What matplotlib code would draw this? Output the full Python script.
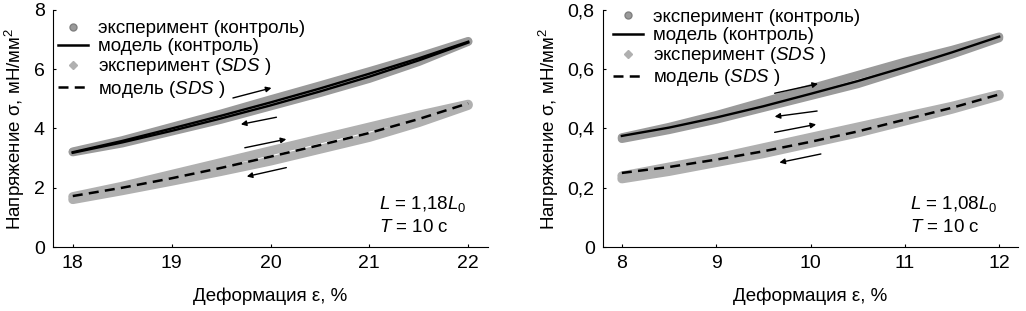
import matplotlib
matplotlib.use("Agg")
import matplotlib.pyplot as plt
from matplotlib.lines import Line2D

plt.rcParams['font.family'] = ['Liberation Sans', 'DejaVu Sans']
plt.rcParams['mathtext.fontset'] = 'custom'
plt.rcParams['mathtext.rm'] = 'Liberation Sans'
plt.rcParams['mathtext.it'] = 'Liberation Sans:italic'

# ---- data: left panel (L = 1,18 L0) ----
xL = [18.0, 18.5, 19.0, 19.5, 20.0, 20.5, 21.0, 21.5, 22.0]
ctrl_up_L = [3.22, 3.60, 4.05, 4.50, 4.98, 5.45, 5.93, 6.42, 6.95]
ctrl_dn_L = [3.20, 3.50, 3.90, 4.30, 4.75, 5.20, 5.68, 6.25, 6.93]
ctrl_mod_up_L = [3.20, 3.58, 4.00, 4.43, 4.88, 5.35, 5.85, 6.37, 6.93]
ctrl_mod_dn_L = [3.18, 3.53, 3.92, 4.34, 4.78, 5.25, 5.75, 6.30, 6.90]
sds_up_L = [1.70, 2.05, 2.45, 2.85, 3.25, 3.65, 4.05, 4.45, 4.82]
sds_dn_L = [1.60, 1.90, 2.22, 2.55, 2.90, 3.30, 3.70, 4.20, 4.78]
sds_mod_L = [1.72, 2.00, 2.32, 2.67, 3.05, 3.44, 3.85, 4.32, 4.85]

# ---- data: right panel (L = 1,08 L0) ----
xR = [8.0, 8.5, 9.0, 9.5, 10.0, 10.5, 11.0, 11.5, 12.0]
ctrl_up_R = [0.370, 0.405, 0.445, 0.490, 0.535, 0.580, 0.625, 0.665, 0.710]
ctrl_dn_R = [0.365, 0.395, 0.430, 0.470, 0.510, 0.550, 0.600, 0.650, 0.705]
ctrl_mod_R = [0.375, 0.403, 0.437, 0.475, 0.517, 0.560, 0.607, 0.657, 0.710]
sds_up_R = [0.240, 0.270, 0.300, 0.335, 0.370, 0.405, 0.440, 0.475, 0.515]
sds_dn_R = [0.230, 0.255, 0.285, 0.315, 0.350, 0.385, 0.425, 0.465, 0.510]
sds_mod_R = [0.250, 0.270, 0.295, 0.323, 0.355, 0.390, 0.430, 0.470, 0.515]

labels = ['эксперимент (контроль)', 'модель (контроль)',
          'эксперимент ($SDS$ )', 'модель ($SDS$ )']

fig = plt.figure(figsize=(10.26, 3.11), dpi=100)
axL = fig.add_axes([53/1026, 1-247/311, (488-53)/1026, (247-10)/311])
axR = fig.add_axes([603/1026, 1-247/311, (1018-603)/1026, (247-10)/311])

GRAY_C = '#9a9a9a'
GRAY_S = '#b0b0b0'
FS = 13.5

def draw(ax, x, cu, cd, cm_list, su, sd, sm, arrows, xlim, ylim, yticks, yticklabels,
         xticks, note, note_x, leg_anchor):
    for yy in (cu, cd):
        ax.plot(x, yy, color=GRAY_C, lw=6, solid_capstyle='round', zorder=2)
    for yy in (su, sd):
        ax.plot(x, yy, color=GRAY_S, lw=6.5, solid_capstyle='round', zorder=2)
    for yy in cm_list:
        ax.plot(x, yy, color='black', lw=1.7, zorder=3)
    ax.plot(x, sm, color='black', lw=1.8, dashes=(4, 2.5), zorder=3)
    for (x0, y0, x1, y1) in arrows:
        ax.annotate('', xy=(x1, y1), xytext=(x0, y0),
                    arrowprops=dict(arrowstyle='-|>', color='black', lw=1.0,
                                    mutation_scale=8, shrinkA=0, shrinkB=0))
    ax.set_xlim(*xlim)
    ax.set_ylim(*ylim)
    ax.set_yticks(yticks)
    ax.set_yticklabels(yticklabels)
    ax.set_xticks(xticks)
    ax.spines['top'].set_visible(False)
    ax.spines['right'].set_visible(False)
    ax.tick_params(direction='in', length=2, labelsize=14, pad=6)
    ax.set_xlabel('Деформация ε, %', fontsize=FS, labelpad=11)
    ax.set_ylabel('Напряжение σ, мН/мм$^2$', fontsize=FS, labelpad=5)
    ax.text(note_x, 0.225, note, transform=ax.transAxes, fontsize=FS,
            va='top', ha='left', linespacing=1.4)
    handles = [Line2D([], [], ls='none', marker='o', ms=5, color=GRAY_C,
                      markeredgecolor='#808080'),
               Line2D([], [], color='black', lw=1.8),
               Line2D([], [], ls='none', marker='D', ms=4.5, color=GRAY_S),
               Line2D([], [], color='black', lw=1.8, dashes=(4, 2.5))]
    ax.legend(handles, labels, loc='upper left', bbox_to_anchor=leg_anchor,
              frameon=False, fontsize=FS, handlelength=1.6, handletextpad=0.5,
              labelspacing=0.06, borderaxespad=0, borderpad=0)

arrowsL = [(19.62, 5.03, 20.01, 5.37), (20.06, 4.38, 19.70, 4.14),
           (19.74, 3.35, 20.16, 3.64), (20.16, 2.68, 19.76, 2.38)]
arrowsR = [(9.62, 0.519, 10.08, 0.551), (10.07, 0.459, 9.62, 0.440),
           (9.62, 0.387, 10.06, 0.414), (10.11, 0.314, 9.67, 0.285)]

draw(axL, xL, ctrl_up_L, ctrl_dn_L, [ctrl_mod_up_L, ctrl_mod_dn_L],
     sds_up_L, sds_dn_L, sds_mod_L, arrowsL, (17.8, 22.2), (0, 8),
     [0, 2, 4, 6, 8], ['0', '2', '4', '6', '8'], [18, 19, 20, 21, 22],
     '$L$ = 1,18$L_0$\n$T$ = 10 с', 0.75, (0.012, 0.958))
draw(axR, xR, ctrl_up_R, ctrl_dn_R, [ctrl_mod_R],
     sds_up_R, sds_dn_R, sds_mod_R, arrowsR, (7.8, 12.2), (0, 0.8),
     [0, 0.2, 0.4, 0.6, 0.8], ['0', '0,2', '0,4', '0,6', '0,8'], [8, 9, 10, 11, 12],
     '$L$ = 1,08$L_0$\n$T$ = 10 с', 0.74, (0.025, 1.005))

fig.savefig('out.png', dpi=100)
